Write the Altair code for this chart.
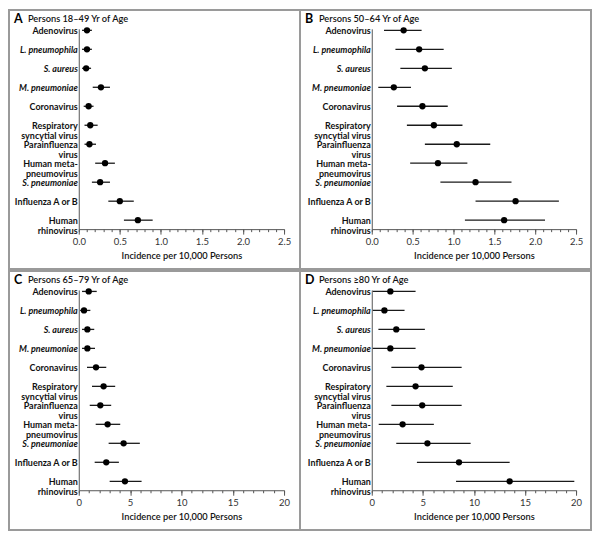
import altair as alt
import pandas as pd

categories = ["Adenovirus", "L. pneumophila", "S. aureus", "M. pneumoniae", "Coronavirus",
              "Respiratory|syncytial virus", "Parainfluenza|virus", "Human meta-|pneumovirus",
              "S. pneumoniae", "Influenza A or B", "Human|rhinovirus"]
italic_categories = ["L. pneumophila", "S. aureus", "M. pneumoniae", "S. pneumoniae"]

panel_letters = ["A", "B", "C", "D"]
panel_titles = ["Persons 18\u201349 Yr of Age", "Persons 50\u201364 Yr of Age",
                "Persons 65\u201379 Yr of Age", "Persons \u226580 Yr of Age"]
x_max = [2.5, 2.5, 20, 20]
x_major_step = [0.5, 0.5, 5, 5]
x_title = "Incidence per 10,000 Persons"

est_a = [0.10, 0.10, 0.09, 0.27, 0.12, 0.14, 0.13, 0.32, 0.26, 0.50, 0.72]
low_a = [0.04, 0.04, 0.04, 0.17, 0.06, 0.07, 0.07, 0.20, 0.16, 0.36, 0.55]
high_a = [0.16, 0.16, 0.15, 0.38, 0.18, 0.23, 0.21, 0.44, 0.38, 0.67, 0.90]

est_b = [0.39, 0.58, 0.65, 0.27, 0.62, 0.76, 1.04, 0.81, 1.27, 1.76, 1.62]
low_b = [0.15, 0.29, 0.35, 0.08, 0.31, 0.43, 0.65, 0.47, 0.84, 1.27, 1.14]
high_b = [0.61, 0.88, 0.98, 0.48, 0.93, 1.11, 1.45, 1.17, 1.71, 2.29, 2.12]

est_c = [0.97, 0.51, 0.84, 0.84, 1.68, 2.42, 2.10, 2.81, 4.37, 2.68, 4.50]
low_c = [0.32, 0.13, 0.32, 0.32, 0.80, 1.29, 1.07, 1.65, 2.91, 1.55, 3.01]
high_c = [1.75, 1.13, 1.51, 1.58, 2.68, 3.55, 3.16, 4.04, 5.95, 3.91, 6.12]

est_d = [1.82, 1.24, 2.40, 1.82, 4.87, 4.29, 4.94, 3.02, 5.45, 8.54, 13.5]
low_d = [0.10, 0.10, 0.65, 0.10, 1.92, 1.43, 1.92, 0.68, 2.40, 4.42, 8.25]
high_d = [4.29, 3.21, 5.20, 4.29, 8.80, 7.93, 8.80, 6.08, 9.68, 13.5, 19.83]

FONT = "Lato"
PW, PH = 292, 260
AXIS_Y = 220  # pixel row of the x axis inside each panel


def panel(i, est, low, high, x_range):
    df = pd.DataFrame({"cat": categories, "est": est, "low": low, "high": high})
    xmax = x_max[i]
    major_step = x_major_step[i]
    minor_step = major_step / 5
    fmt = ".1f" if xmax < 5 else "d"
    n_major = int(round(xmax / major_step))
    major_values = [round(k * major_step, 3) for k in range(n_major + 1)]
    minor_values = [round(k * minor_step, 3) for k in range(n_major * 5 + 1)]

    x_scale = alt.Scale(domain=[0, xmax], range=x_range, nice=False, zero=True)
    major_axis = alt.Axis(
        orient="bottom", title=x_title, values=major_values, format=fmt, grid=False,
        offset=AXIS_Y - PH, tickSize=5, labelFlush=False, labelFont=FONT, labelFontSize=9.5,
        labelColor="#333333", labelPadding=2, domainColor="#555555", tickColor="#555555",
        titleFont=FONT, titleFontSize=9.3, titleFontWeight=600, titleColor="#111111",
        titlePadding=6,
    )
    minor_axis = alt.Axis(
        orient="bottom", title=None, values=minor_values, labels=False, domain=False,
        grid=False, offset=AXIS_Y - PH, tickSize=2.5, tickColor="#555555",
    )
    y_scale = alt.Scale(type="point", domain=categories, range=[19, AXIS_Y],
                        padding=0.2756, align=0.143)
    y_axis = alt.Axis(
        title=None, ticks=False, tickSize=0, offset=-x_range[0], grid=False,
        labelExpr="split(datum.value, '|')", labelOverlap=False,
        labelFont=FONT, labelFontSize=9, labelFontWeight="bold", labelColor="#111111",
        labelLineHeight=10,
        labelFontStyle={"condition": {"test": "indexof(" + str(italic_categories) + ", datum.value) >= 0",
                                      "value": "italic"}, "value": "normal"},
        labelPadding=1.5, domainColor="#555555",
    )
    base = alt.Chart(df)
    rules = base.mark_rule(color="#1a1a1a", strokeWidth=1.3).encode(
        x=alt.X("low:Q", scale=x_scale, axis=major_axis),
        x2="high:Q",
        y=alt.Y("cat:N", sort=categories, scale=y_scale, axis=y_axis),
    )
    points = base.mark_circle(color="#000000", opacity=1, size=40).encode(
        x=alt.X("est:Q", axis=minor_axis),
        y=alt.Y("cat:N", sort=categories),
    )
    tdf = pd.DataFrame({"letter": [panel_letters[i]], "title": [panel_titles[i]]})
    letter = alt.Chart(tdf).mark_text(font=FONT, fontSize=12.5, fontWeight="bold",
                                      align="left", baseline="middle", color="#000000").encode(
        x=alt.value(5), y=alt.value(9), text="letter:N")
    title = alt.Chart(tdf).mark_text(font=FONT, fontSize=9.3, fontWeight=600,
                                     align="left", baseline="middle", color="#111111").encode(
        x=alt.value(19), y=alt.value(9.5), text="title:N")
    return alt.layer(rules, points, letter, title).resolve_axis(x="independent").properties(
        width=PW, height=PH)


pa = panel(0, est_a, low_a, high_a, [70, 276])
pb = panel(1, est_b, low_b, high_b, [72, 277])
pc = panel(2, est_c, low_c, high_c, [70, 276])
pd_ = panel(3, est_d, low_d, high_d, [72, 277])

row1 = alt.hconcat(pa, pb, spacing=0, bounds="flush")
row2 = alt.hconcat(pc, pd_, spacing=0, bounds="flush")
chart = alt.vconcat(row1, row2, spacing=0).properties(
    padding=0, background="white"
).configure_view(stroke="#9a9a9a", strokeWidth=2)

chart.save("out.html", embed_options={"renderer": "svg", "actions": False})
